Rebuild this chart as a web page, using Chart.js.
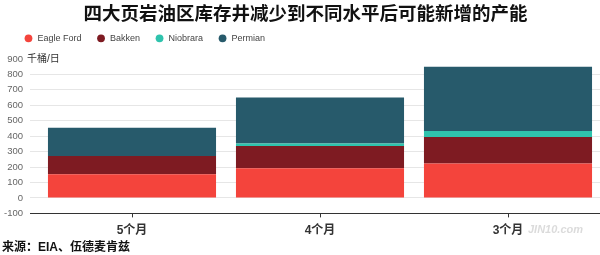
<!DOCTYPE html>
<html><head><meta charset="utf-8">
<script src="https://cdn.jsdelivr.net/npm/chart.js@4"></script>
<style>
html,body{margin:0;padding:0;overflow:hidden;background:#fff;width:600px;height:255px;}
#wrap{position:relative;width:602px;height:255px;}
#c{position:absolute;left:0;top:0;}
#src{position:absolute;left:2px;top:239px;font:bold 12px 'Liberation Sans','Noto Sans CJK SC',sans-serif;color:#111;line-height:16px;white-space:nowrap;}
#wm{position:absolute;left:528px;top:223px;font:italic bold 11px 'Liberation Sans',sans-serif;color:rgba(190,190,190,0.55);white-space:nowrap;}
</style></head>
<body><div id="wrap"><canvas id="c" width="602" height="255"></canvas><div id="src">来源：EIA、伍德麦肯兹</div><div id="wm">JIN10.com</div></div>
<script>
const chartTitle = '四大页岩油区库存井减少到不同水平后可能新增的产能';
const unitLabel = '千桶/日';
const categories = ['5个月', '4个月', '3个月'];
const seriesNames = ['Eagle Ford', 'Bakken', 'Niobrara', 'Permian'];
const eagleFord = [153, 192, 223];
const bakken = [118, 145, 172];
const niobrara = [0, 15, 39];
const permian = [183, 298, 416];
const yTicks = [-100, 0, 100, 200, 300, 400, 500, 600, 700, 800, 900];

const FONT = "'Liberation Sans', 'Noto Sans CJK SC', sans-serif";
const colors = ['#f4443c', '#7e1b22', '#2fc3ad', '#275a6b'];

const unitPlugin = {
  id: 'unitLabel',
  afterLayout(chart) {
    // widen the label clip region so tick labels can extend into the left padding
    chart.scales.y.left = 0;
  },
  afterDraw(chart) {
    const y = chart.scales.y.getPixelForValue(yTicks[yTicks.length - 1]);
    const ctx = chart.ctx;
    ctx.save();
    ctx.font = "10px " + FONT;
    ctx.fillStyle = '#333';
    ctx.textAlign = 'left';
    ctx.textBaseline = 'middle';
    ctx.fillText(unitLabel, 27, y);
    ctx.restore();
  }
};

new Chart(document.getElementById('c'), {
  type: 'bar',
  data: {
    labels: categories,
    datasets: [
      { label: seriesNames[0], data: eagleFord, backgroundColor: colors[0] },
      { label: seriesNames[1], data: bakken, backgroundColor: colors[1] },
      { label: seriesNames[2], data: niobrara, backgroundColor: colors[2] },
      { label: seriesNames[3], data: permian, backgroundColor: colors[3] }
    ]
  },
  options: {
    responsive: false,
    animation: false,
    layout: { padding: { left: 9, right: 0, top: 0, bottom: 11.2 } },
    datasets: { bar: { categoryPercentage: 1, barPercentage: 0.894, borderWidth: 0 } },
    plugins: {
      title: {
        display: true, text: chartTitle, color: '#111',
        font: { family: FONT, size: 18.5, weight: 'bold' },
        padding: { top: 4, bottom: -7.4 }
      },
      legend: {
        position: 'top', align: 'start',
        labels: {
          usePointStyle: true, pointStyle: 'circle', boxWidth: 9, boxHeight: 5.5,
          padding: 15, color: '#444', font: { family: FONT, size: 9 }
        }
      },
      tooltip: { enabled: false }
    },
    scales: {
      x: {
        stacked: true,
        grid: { display: true, drawOnChartArea: false, drawTicks: true, tickLength: 4, color: '#333', offset: false },
        border: { display: true, color: '#333', width: 1 },
        ticks: { color: '#333', padding: 6, font: { family: FONT, size: 12, weight: 'bold' } }
      },
      y: {
        stacked: true, min: -100, max: 940,
        afterBuildTicks: s => { s.ticks = yTicks.map(v => ({ value: v })); },
        afterFit: s => { s.width = 29; },
        border: { display: false },
        grid: {
          tickLength: 8,
          color: c => (c.tick && c.tick.value === -100) ? '#333' : (c.tick && c.tick.value === 900) ? 'rgba(0,0,0,0)' : '#e6e6e6'
        },
        ticks: { color: '#666', padding: 7, font: { family: FONT, size: 9.5 } }
      }
    }
  },
  plugins: [unitPlugin]
});
</script>
</body></html>
